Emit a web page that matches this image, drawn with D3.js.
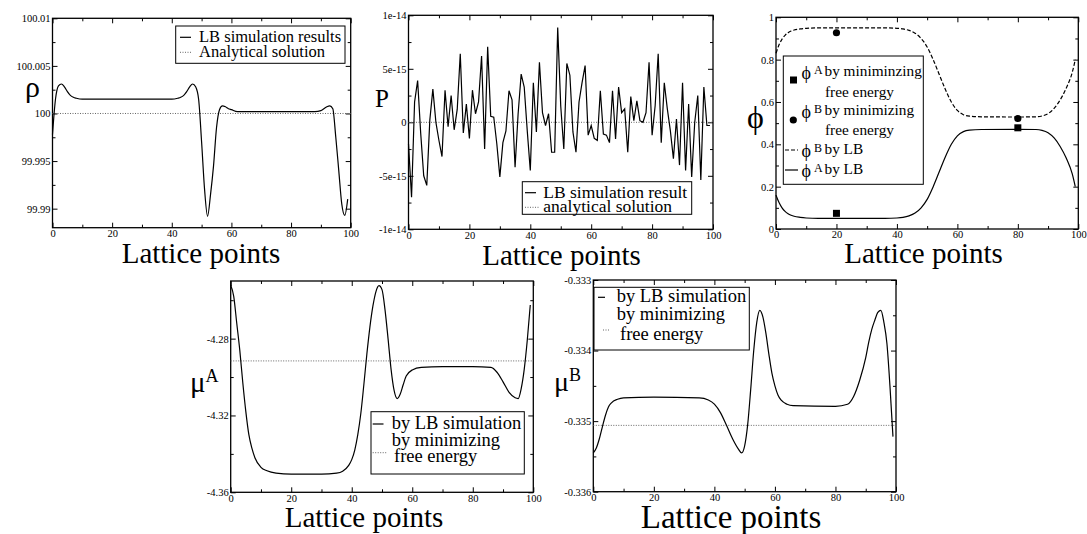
<!DOCTYPE html>
<html>
<head>
<meta charset="utf-8">
<script src="https://cdn.jsdelivr.net/npm/d3@7"></script>
<style>
  body { margin: 0; background: #fff; }
</style>
</head>
<body>
<script>
// ---- data ----
const xTicks = [0, 20, 40, 60, 80, 100];
const xMinorTicks = [10, 30, 50, 70, 90];
const xTickLabels = ["0", "20", "40", "60", "80", "100"];

// density
const rhoSim = [[0, 99.9978], [1, 100.0015], [2, 100.0029], [3, 100.0031], [4, 100.0028], [5, 100.0023],
  [6, 100.0019], [7, 100.0017], [8, 100.0016], [10, 100.0015], [20, 100.0015], [30, 100.0015], [40, 100.0015],
  [42, 100.0016], [43, 100.0017], [44, 100.0019], [45, 100.0023], [46, 100.0028], [47, 100.0031], [48, 100.0028],
  [49, 100.0015], [50, 99.997], [51, 99.992], [52, 99.9892], [53, 99.9915], [54, 99.9945], [55, 99.9985],
  [56, 100.0004], [57, 100.0008], [58, 100.0007], [59, 100.0005], [60, 100.0004], [62, 100.0002], [65, 100.0002],
  [70, 100.0002], [80, 100.0002], [88, 100.0002], [90, 100.0003], [91, 100.0005], [92, 100.0007], [93, 100.0008],
  [94, 100.0005], [95, 99.9975], [96, 99.994], [97, 99.9905], [98, 99.9893], [99, 99.991]];
const rhoAnalytical = 100;
const rhoTicks = [99.99, 99.995, 100, 100.005, 100.01];
const rhoMinorTicks = [99.9925, 99.9975, 100.0025, 100.0075];
const rhoTickLabels = ["99.99", "99.995", "100", "100.005", "100.01"];

// pressure, one value per lattice point 0..99, in units of 1e-15
const pValues = [-2.0, -7.0, 1.9, 3.9, -1.0, -5.0, -5.9, 0.2, 3.1, 0.0,
  -1.7, -3.2, 3.0, -0.4, 2.5, -0.7, 1.2, 6.4, -1.0, 1.7,
  -1.5, 3.0, 0.8, 1.9, 6.2, -2.5, 7.05, 0.56, 0.47, -2.0,
  -5.1, -1.9, -0.8, 2.95, 2.1, -4.2, 0.8, 4.5, 3.3, -0.8,
  -4.5, 3.7, -0.9, 5.6, 0.9, -0.3, 0.8, -2.8, -2.8, 8.85,
  1.5, -2.5, 5.5, 4.4, -0.9, -2.8, 1.9, 3.7, 5.3, -1.2,
  -0.3, -1.5, -1.7, 2.95, -1.1, -1.2, -1.9, 2.95, -1.55, 3.3,
  0.9, 1.25, -2.8, 2.4, 0.15, 2.0, 0.15, 0.0, 0.9, 5.6,
  -1.2, 1.55, 6.4, -1.9, 3.7, 1.25, -0.8, -3.4, 0.3, -4.0,
  3.7, -4.5, 1.7, -5.1, 0.0, 2.5, -5.4, 3.3, -0.3, -0.3];
const pUnit = 1e-15;
const pAnalytical = 0;
const pTicks = [-1e-14, -5e-15, 0, 5e-15, 1e-14];
const pMinorTicks = [-7.5e-15, -2.5e-15, 2.5e-15, 7.5e-15];
const pTickLabels = ["-1e-14", "-5e-15", "0", "5e-15", "1e-14"];

// volume fractions
const phiALB = [[0, 0.16], [1, 0.125], [2, 0.1], [3, 0.083], [4, 0.072], [5, 0.065], [6, 0.06], [8, 0.055],
  [10, 0.052], [14, 0.05], [20, 0.05], [36, 0.05], [40, 0.052], [42, 0.055], [44, 0.062], [46, 0.075], [48, 0.1],
  [50, 0.14], [52, 0.2], [54, 0.27], [56, 0.34], [58, 0.4], [60, 0.44], [62, 0.46], [64, 0.467], [68, 0.47],
  [80, 0.471], [86, 0.47], [88, 0.466], [90, 0.455], [92, 0.43], [94, 0.39], [96, 0.335], [98, 0.26], [99, 0.2]];
const phiBLB = [[0, 0.83], [1, 0.87], [2, 0.897], [3, 0.915], [4, 0.927], [5, 0.935], [6, 0.94], [8, 0.945],
  [10, 0.948], [14, 0.95], [36, 0.95], [40, 0.948], [42, 0.945], [44, 0.938], [46, 0.925], [48, 0.9], [50, 0.86],
  [52, 0.8], [54, 0.73], [56, 0.66], [58, 0.6], [60, 0.56], [62, 0.54], [64, 0.533], [68, 0.53], [80, 0.529],
  [86, 0.53], [88, 0.534], [90, 0.545], [92, 0.57], [94, 0.61], [96, 0.665], [98, 0.74], [99, 0.8]];
const phiAMin = [[20, 0.074], [80, 0.478]];
const phiBMin = [[20, 0.927], [80, 0.522]];
const phiTicks = [0, 0.2, 0.4, 0.6, 0.8, 1];
const phiMinorTicks = [0.1, 0.3, 0.5, 0.7, 0.9];
const phiTickLabels = ["0", "0.2", "0.4", "0.6", "0.8", "1"];

// chemical potential A
const muASim = [[0, -4.2522], [1, -4.258], [2, -4.272], [3, -4.286], [4, -4.303], [5, -4.318], [6, -4.33],
  [7, -4.337], [8, -4.342], [10, -4.347], [12, -4.3488], [15, -4.35], [20, -4.3505], [30, -4.3505], [35, -4.35],
  [37, -4.349], [39, -4.346], [40, -4.343], [41, -4.338], [42, -4.33], [43, -4.319], [44, -4.304], [45, -4.288],
  [46, -4.274], [47, -4.263], [48, -4.2555], [49, -4.2524], [50, -4.2545], [51, -4.265], [52, -4.28],
  [53, -4.296], [54, -4.307], [55, -4.3112], [56, -4.309], [57, -4.304], [58, -4.2995], [60, -4.2963],
  [63, -4.295], [70, -4.2946], [80, -4.2946], [86, -4.295], [88, -4.2975], [90, -4.3025], [92, -4.308],
  [94, -4.3108], [95, -4.3112], [96, -4.306], [97, -4.296], [98, -4.281], [99, -4.2625]];
const muAMin = -4.2916;
const muATicks = [-4.36, -4.32, -4.28];
const muAMinorTicks = [-4.34, -4.3, -4.26];
const muATickLabels = ["-4.36", "-4.32", "-4.28"];

// chemical potential B
const muBSim = [[0, -0.33545], [1, -0.33538], [2, -0.33525], [3, -0.33508], [4, -0.33492], [5, -0.3348],
  [6, -0.33474], [8, -0.33469], [10, -0.33467], [20, -0.33466], [35, -0.33467], [38, -0.3347], [40, -0.33476],
  [42, -0.33488], [44, -0.33506], [46, -0.33525], [48, -0.3354], [49, -0.33545], [50, -0.33535], [51, -0.33505],
  [52, -0.33455], [53, -0.334], [54, -0.3336], [55, -0.33343], [56, -0.33352], [57, -0.33375], [58, -0.33405],
  [59, -0.33432], [60, -0.3345], [61, -0.33463], [62, -0.3347], [64, -0.33476], [66, -0.33478], [80, -0.33479],
  [84, -0.33476], [86, -0.33465], [88, -0.33442], [90, -0.3341], [91, -0.33388], [92, -0.3337], [93, -0.33357],
  [94, -0.33346], [95, -0.33343], [96, -0.3336], [97, -0.3339], [98, -0.3345], [99, -0.33522]];
const muBMin = -0.33506;
const muBTicks = [-0.336, -0.335, -0.334, -0.333];
const muBMinorTicks = [-0.3355, -0.3345, -0.3335];
const muBTickLabels = ["-0.336", "-0.335", "-0.334", "-0.333"];

// ---- drawing ----
const serif = '"Liberation Serif"';
const width = 1087;
const height = 534;

const svg = d3
  .select("body")
  .append("svg")
  .attr("width", width)
  .attr("height", height)
  .attr("viewBox", [0, 0, width, height]);

function addAxis(g, axis, transform, fontSize) {
  const a = g.append("g").attr("transform", transform).call(axis);
  a.select(".domain").remove();
  a.selectAll(".tick line").attr("stroke", "#000").attr("stroke-width", 1);
  a.selectAll("text").attr("font-size", fontSize).attr("fill", "#000");
  return a;
}

// frame with inward ticks on all four sides, labels on left and bottom
function panel(p) {
  const x = d3.scaleLinear([0, 100], [p.left, p.right]);
  const y = d3.scaleLinear(p.yDomain, [p.bottom, p.top]);
  const g = svg.append("g");
  const fs = p.tickFont || 10.5;
  const fmtX = (d) => xTickLabels[xTicks.indexOf(d)];
  const fmtY = (d) => p.yLabels[p.yTicks.indexOf(d)];

  addAxis(g, d3.axisBottom(x).tickValues(xTicks).tickSizeInner(-5).tickSizeOuter(0).tickPadding(2).tickFormat(fmtX),
    `translate(0,${p.bottom})`, fs);
  addAxis(g, d3.axisBottom(x).tickValues(xMinorTicks).tickSize(-3).tickFormat(""), `translate(0,${p.bottom})`, fs);
  addAxis(g, d3.axisTop(x).tickValues(xTicks).tickSize(-5).tickFormat(""), `translate(0,${p.top})`, fs);
  addAxis(g, d3.axisTop(x).tickValues(xMinorTicks).tickSize(-3).tickFormat(""), `translate(0,${p.top})`, fs);

  addAxis(g, d3.axisLeft(y).tickValues(p.yTicks).tickSizeInner(-5).tickSizeOuter(0).tickPadding(2).tickFormat(fmtY),
    `translate(${p.left},0)`, fs);
  addAxis(g, d3.axisLeft(y).tickValues(p.yMinor).tickSize(-3).tickFormat(""), `translate(${p.left},0)`, fs);
  addAxis(g, d3.axisRight(y).tickValues(p.yTicks).tickSize(-5).tickFormat(""), `translate(${p.right},0)`, fs);
  addAxis(g, d3.axisRight(y).tickValues(p.yMinor).tickSize(-3).tickFormat(""), `translate(${p.right},0)`, fs);

  g.append("rect")
    .attr("x", p.left)
    .attr("y", p.top)
    .attr("width", p.right - p.left)
    .attr("height", p.bottom - p.top)
    .attr("fill", "none")
    .attr("stroke", "#000")
    .attr("stroke-width", 1.3);

  // x title
  g.append("text")
    .attr("x", p.xTitle[0])
    .attr("y", p.xTitle[1])
    .attr("text-anchor", "middle")
    .attr("font-size", p.xTitle[2])
    .text("Lattice points");

  return { x, y, g };
}

function curve(f, data, opts = {}) {
  const line = d3
    .line()
    .x((d) => f.x(d[0]))
    .y((d) => f.y(d[1]))
    .curve(opts.linear ? d3.curveLinear : d3.curveMonotoneX);
  return f.g
    .append("path")
    .datum(data)
    .attr("d", line)
    .attr("fill", "none")
    .attr("stroke", opts.color || "#000")
    .attr("stroke-width", opts.width || 1.2)
    .attr("stroke-dasharray", opts.dash || null);
}

function hline(f, value) {
  curve(f, [[0, value], [100, value]], { linear: true, color: "#666", width: 1, dash: "1,1.5" });
}

function legendBox(g, x0, y0, x1, y1) {
  g.append("rect")
    .attr("x", x0)
    .attr("y", y0)
    .attr("width", x1 - x0)
    .attr("height", y1 - y0)
    .attr("fill", "#fff")
    .attr("stroke", "#000")
    .attr("stroke-width", 1);
}

function sample(g, x0, x1, y, dash, color) {
  g.append("line")
    .attr("x1", x0).attr("x2", x1).attr("y1", y).attr("y2", y)
    .attr("stroke", color || "#000")
    .attr("stroke-width", dash === "1,1.5" ? 1 : 1.2)
    .attr("stroke-dasharray", dash || null);
}

function label(g, x, y, size, str) {
  g.append("text").attr("x", x).attr("y", y).attr("font-size", size).text(str);
}

// panel 1: density
const f1 = panel({
  left: 52.5, right: 350.7, top: 18.3, bottom: 227.7,
  yDomain: [99.988, 100.01], yTicks: rhoTicks, yMinor: rhoMinorTicks, yLabels: rhoTickLabels,
  xTitle: [201, 263, 29],
});
hline(f1, rhoAnalytical);
curve(f1, rhoSim);
legendBox(f1.g, 175.7, 26, 345, 63.3);
sample(f1.g, 180, 191, 37.3);
label(f1.g, 199, 41.5, 16.5, "LB simulation results");
sample(f1.g, 180, 191, 52.3, "1,1.5", "#666");
label(f1.g, 199, 57, 16.5, "Analytical solution");
label(svg, 25, 97, 30, "ρ");

// panel 2: pressure
const f2 = panel({
  left: 408.5, right: 713, top: 15.3, bottom: 229.3,
  yDomain: [-1e-14, 1e-14], yTicks: pTicks, yMinor: pMinorTicks, yLabels: pTickLabels,
  xTitle: [561.5, 265, 29],
});
hline(f2, pAnalytical);
curve(f2, pValues.map((v, i) => [i, v * pUnit]), { linear: true });
legendBox(f2.g, 522.3, 181.7, 691.7, 214.3);
sample(f2.g, 525, 536, 192.7);
label(f2.g, 543.3, 197.5, 17.5, "LB simulation result");
sample(f2.g, 525, 540, 207.3, "1,1.5", "#666");
label(f2.g, 543.3, 212, 17.5, "analytical solution");
label(svg, 375, 107, 25, "P");

// panel 3: volume fractions
const f3 = panel({
  left: 776, right: 1078.3, top: 17.3, bottom: 229,
  yDomain: [0, 1], yTicks: phiTicks, yMinor: phiMinorTicks, yLabels: phiTickLabels,
  xTitle: [923.5, 263, 29],
});
curve(f3, phiBLB, { dash: "4,2" });
curve(f3, phiALB);
f3.g.selectAll(".sq")
  .data(phiAMin)
  .join("rect")
  .attr("x", (d) => f3.x(d[0]) - 3.5)
  .attr("y", (d) => f3.y(d[1]) - 3.5)
  .attr("width", 7)
  .attr("height", 7)
  .attr("fill", "#000");
f3.g.selectAll(".dot")
  .data(phiBMin)
  .join("circle")
  .attr("cx", (d) => f3.x(d[0]))
  .attr("cy", (d) => f3.y(d[1]))
  .attr("r", 3.6)
  .attr("fill", "#000");

// phi glyph, raised superscript, then the words
function phiText(g, y, sup, rest) {
  label(g, 801.5, y + 3, 18, "ϕ");
  label(g, 814, y - 2, 12, sup);
  label(g, 824.5, y, 15.3, rest);
}
legendBox(f3.g, 783.3, 56, 923.3, 184.3);
f3.g.append("rect").attr("x", 790).attr("y", 76.5).attr("width", 7).attr("height", 7).attr("fill", "#000");
phiText(f3.g, 76, "A", "by miniminzing");
label(f3.g, 825, 96.5, 15.3, "free energy");
f3.g.append("circle").attr("cx", 793.3).attr("cy", 120).attr("r", 3.6).attr("fill", "#000");
phiText(f3.g, 115, "B", "by minimizing");
label(f3.g, 825, 135, 15.3, "free energy");
sample(f3.g, 785, 798, 150, "4,2");
phiText(f3.g, 153.5, "B", "by LB");
sample(f3.g, 785, 798, 170);
phiText(f3.g, 173.5, "A", "by LB");
label(svg, 747, 128, 32, "ϕ");

// panel 4: chemical potential A
const f4 = panel({
  left: 230.7, right: 533.3, top: 281, bottom: 492.3,
  yDomain: [-4.36, -4.25], yTicks: muATicks, yMinor: muAMinorTicks, yLabels: muATickLabels,
  xTitle: [364, 527, 29],
});
hline(f4, muAMin);
curve(f4, muASim);
legendBox(f4.g, 371, 411.7, 524.3, 474);
sample(f4.g, 372.7, 383.5, 424);
label(f4.g, 391.7, 428.5, 18.5, "by LB simulation");
label(f4.g, 391.7, 446, 18.5, "by minimizing");
sample(f4.g, 372.7, 386.7, 452.7, "1,1.5", "#666");
label(f4.g, 394, 462, 18.5, "free energy");
const muA = svg.append("text").attr("x", 190).attr("y", 392);
muA.append("tspan").attr("font-size", 29).text("μ");
muA.append("tspan").attr("font-size", 18).attr("dy", -10).text("A");

// panel 5: chemical potential B
const f5 = panel({
  left: 593.3, right: 896, top: 280, bottom: 491.7,
  yDomain: [-0.336, -0.333], yTicks: muBTicks, yMinor: muBMinorTicks, yLabels: muBTickLabels,
  xTitle: [731, 528, 33],
});
hline(f5, muBMin);
curve(f5, muBSim);
legendBox(f5.g, 594, 287.3, 749.3, 350);
sample(f5.g, 598, 605, 297.3);
label(f5.g, 616.7, 302, 18.5, "by LB simulation");
label(f5.g, 616.7, 320, 18.5, "by minimizing");
sample(f5.g, 603, 610, 330, "1,1.5", "#666");
label(f5.g, 620, 340, 18.5, "free energy");
const muB = svg.append("text").attr("x", 554).attr("y", 391);
muB.append("tspan").attr("font-size", 28).text("μ");
muB.append("tspan").attr("font-size", 18).attr("dy", -10).text("B");

// serif on every text element, set inline so the axis defaults do not win
svg.selectAll("g").attr("font-family", null);
svg.selectAll("text").style("font-family", serif);
svg.selectAll("tspan").style("font-family", serif);
</script>
</body>
</html>
